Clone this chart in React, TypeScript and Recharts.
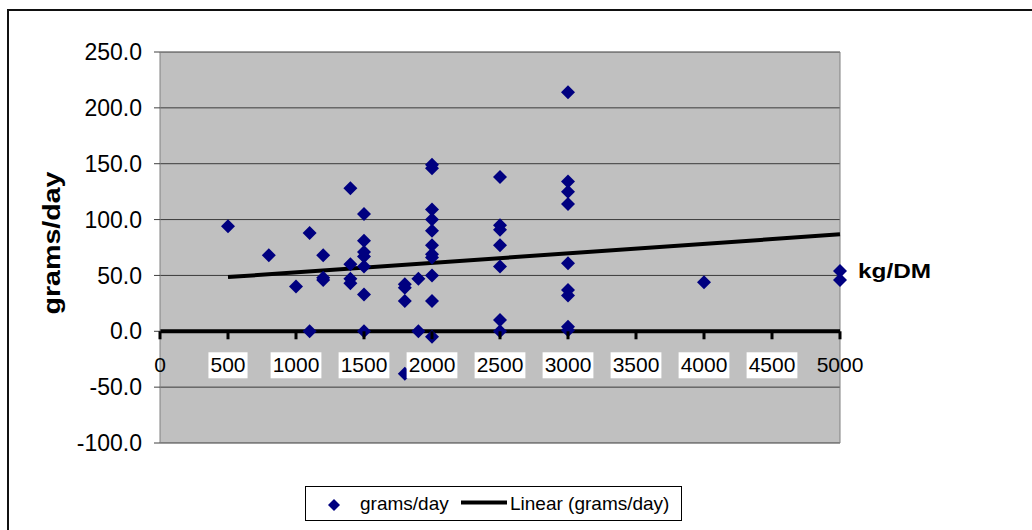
import { CartesianGrid, ReferenceLine, Scatter, ScatterChart, XAxis, YAxis } from "recharts";

// dry matter offered (kg/DM) and the daily gains measured at each level
const dmLevels = [500, 800, 1000, 1100, 1200, 1400, 1500, 1800, 1900, 2000, 2500, 3000, 4000, 5000];
const gainsByLevel = [
  [94],
  [68],
  [40],
  [88, 0],
  [68, 48, 46],
  [128, 60, 47, 43],
  [105, 81, 71, 67, 58, 33, 0],
  [42, 39, 27, -38],
  [47, 0],
  [149, 146, 109, 100, 90, 77, 69, 66, 50, 27, -5],
  [138, 95, 91, 77, 58, 10, 0],
  [214, 134, 125, 114, 61, 37, 32, 4, 1],
  [44],
  [54, 46],
];

// linear trend (grams/day) end points
const trendX = [500, 5000];
const trendY = [48.5, 86.8];

const xTicks = [0, 500, 1000, 1500, 2000, 2500, 3000, 3500, 4000, 4500, 5000];
const yTicks = [-100, -50, 0, 50, 100, 150, 200, 250];

const points = dmLevels.flatMap((dm, i) => gainsByLevel[i].map((g) => ({ dm, g })));
const trend = trendX.map((dm, i) => ({ dm, g: trendY[i] }));

const W = 1032;
const H = 530;
const PLOT_LEFT = 160;
const PLOT_TOP = 52;
const PLOT_RIGHT = 840;
const PLOT_BOTTOM = 443;
const X_AXIS_H = 40;
const Y_MIN = yTicks[0];
const Y_MAX = yTicks[yTicks.length - 1];
const ZERO_Y = PLOT_TOP + ((PLOT_BOTTOM - PLOT_TOP) * Y_MAX) / (Y_MAX - Y_MIN);

const NAVY = "#000080";

const Diamond = ({ cx, cy }: any) => {
  const r = 7;
  return (
    <path
      d={`M${cx},${cy - r}L${cx + r},${cy}L${cx},${cy + r}L${cx - r},${cy}Z`}
      fill={NAVY}
    />
  );
};

const NoShape = () => <g />;

// x ticks sit on the zero line rather than at the bottom of the plot
const renderXTick = ({ x, payload }: any) => {
  const label = String(payload.value);
  const boxed = payload.value !== xTicks[0] && payload.value !== xTicks[xTicks.length - 1];
  const w = label.length * 11.7 + 4;
  return (
    <g key={`xt-${label}`}>
      <line x1={x} x2={x} y1={ZERO_Y} y2={ZERO_Y + 8} stroke="#000" strokeWidth={3} />
      {boxed && <rect x={x - w / 2} y={ZERO_Y + 21} width={w} height={26} fill="#fff" />}
      <text x={x} y={ZERO_Y + 41} textAnchor="middle" fontSize={21} fill="#000">
        {label}
      </text>
    </g>
  );
};

const YTitle = () => (
  <text
    x={60}
    y={243}
    transform="rotate(-90, 60, 243)"
    textAnchor="middle"
    fontSize={24}
    fontWeight={700}
    textLength={143}
    lengthAdjust="spacingAndGlyphs"
    fill="#000"
  >
    grams/day
  </text>
);

export default function App() {
  return (
    <div
      style={{
        position: "absolute",
        left: 0,
        top: 0,
        width: W,
        height: H,
        overflow: "hidden",
        background: "#fff",
        fontFamily: "'Liberation Sans', Arial, sans-serif",
      }}
    >
      <div
        style={{
          position: "absolute",
          left: 7,
          top: 9,
          width: 1060,
          height: 560,
          border: "2px solid #111",
          boxSizing: "border-box",
        }}
      />
      <div style={{ position: "absolute", left: 0, top: 0 }}>
        <ScatterChart
          width={W}
          height={H}
          margin={{
            top: PLOT_TOP,
            right: W - PLOT_RIGHT,
            bottom: H - PLOT_BOTTOM - X_AXIS_H,
            left: 0,
          }}
        >
          <CartesianGrid
            vertical={false}
            stroke="#3a3a3a"
            fill="#C0C0C0"
            fillOpacity={1}
          />
          <XAxis
            type="number"
            dataKey="dm"
            domain={[0, 5000]}
            ticks={xTicks}
            interval={0}
            height={X_AXIS_H}
            axisLine={false}
            tickLine={false}
            tick={renderXTick}
          />
          <YAxis
            type="number"
            dataKey="g"
            domain={[Y_MIN, Y_MAX]}
            ticks={yTicks}
            interval={0}
            width={PLOT_LEFT}
            axisLine={{ stroke: "#808080" }}
            tickLine={{ stroke: "#404040" }}
            tickSize={6}
            tickMargin={12}
            tick={{ fontSize: 23, fill: "#000" }}
            tickFormatter={(v: number) => v.toFixed(1)}
            label={{ content: <YTitle /> }}
          />
          <ReferenceLine x={5000} stroke="#808080" strokeWidth={1} />
          <ReferenceLine y={0} stroke="#000" strokeWidth={4} />
          <Scatter
            data={trend}
            line={{ stroke: "#000", strokeWidth: 4 }}
            shape={<NoShape />}
            legendType="none"
            isAnimationActive={false}
          />
          <Scatter data={points} shape={<Diamond />} isAnimationActive={false} />
        </ScatterChart>
      </div>
      <svg
        width={W}
        height={H}
        style={{ position: "absolute", left: 0, top: 0, pointerEvents: "none" }}
      >
        <text
          x={858}
          y={278}
          fontSize={20}
          fontWeight={700}
          textLength={73}
          lengthAdjust="spacingAndGlyphs"
          fill="#000"
        >
          kg/DM
        </text>
        <rect x={305.5} y={486.5} width={376} height={34} fill="#fff" stroke="#000" />
        <path d="M334,499L340,505L334,511L328,505Z" fill={NAVY} />
        <text x={360} y={510} fontSize={19} fill="#000">
          grams/day
        </text>
        <line x1={461} x2={507} y1={502.5} y2={502.5} stroke="#000" strokeWidth={4} />
        <text x={510} y={510} fontSize={19} fill="#000">
          Linear (grams/day)
        </text>
      </svg>
    </div>
  );
}
